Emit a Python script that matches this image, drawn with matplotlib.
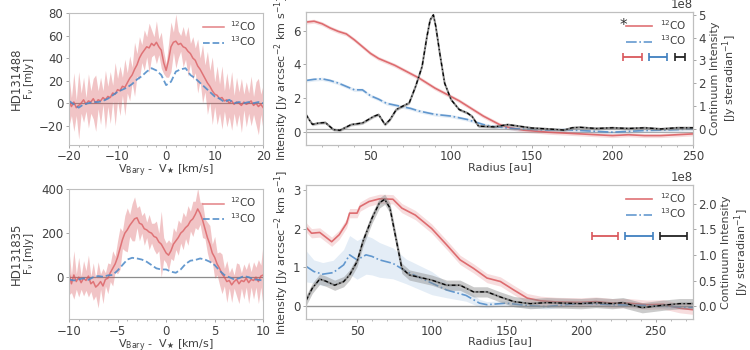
import numpy as np
import matplotlib
matplotlib.use("Agg")
import matplotlib.pyplot as plt
from matplotlib.lines import Line2D

plt.rcParams['font.family'] = ['DejaVu Sans']
plt.rcParams['font.size'] = 8.5
plt.rcParams['text.color'] = '0.25'
plt.rcParams['axes.labelcolor'] = '0.25'
plt.rcParams['xtick.color'] = '0.25'
plt.rcParams['ytick.color'] = '0.25'
plt.rcParams['axes.edgecolor'] = '0.75'

RED = '#d9585c'
BLUE = '#4a88c7'

# ---------------- spectra: HD131488 ----------------
v1_12 = np.arange(-20, 20.01, 0.5)
f1_12 = [2, -3, 1, -4, -2, 0, 3, -1, 2, 1,
         4, 0, 3, 2, 5, 3, 6, 5, 9, 8,
         12, 11, 15, 14, 18, 22, 25, 30, 34, 40,
         44, 47, 50, 49, 53, 51, 54, 50, 47, 36,
         29, 38, 50, 54, 55, 52, 53, 50, 49, 46,
         44, 40, 38, 33, 30, 26, 22, 18, 15, 11,
         8, 7, 4, 5, 2, 3, 0, 2, -1, 1,
         0, -2, 1, -1, 0, 2, -2, 0, -3, -1,
         -4]
e1_12 = [22, 8, 26, 7, 30, 9, 20, 6, 24, 10,
         18, 25, 8, 21, 6, 26, 9, 23, 7, 28,
         10, 22, 8, 25, 9, 20, 7, 24, 10, 19,
         8, 18, 9, 22, 12, 8, 19, 7, 16, 10,
         6, 15, 22, 9, 24, 12, 7, 18, 10, 22,
         9, 19, 11, 24, 10, 26, 12, 28, 14, 30,
         11, 26, 13, 28, 9, 24, 12, 26, 8, 22,
         10, 24, 7, 20, 9, 22, 8, 19, 25, 9,
         21]
v1_13 = np.arange(-20, 20.01, 1.0)
f1_13 = [2, -1, -4, -1, 0, 1, 1, 2, 4, 7,
         10, 12, 14, 17, 21, 24, 28, 31, 29, 25,
         16, 19, 28, 30, 31, 25, 22, 18, 14, 10,
         6, 4, 1, 3, 0, 1, 0, 1, 0, 1,
         0]

# ---------------- spectra: HD131835 ----------------
v2_12 = np.arange(-10, 10.01, 0.25)
f2_12 = [20, -30, 10, -20, 0, -25, -5, -15, 5, -30,
         -20, -45, -35, -20, -40, -10, -5, 20, 40, 60,
         90, 130, 170, 200, 215, 235, 250, 265, 270, 245,
         240, 220, 215, 205, 200, 185, 180, 160, 150, 130,
         110, 100, 120, 150, 165, 180, 200, 210, 225, 235,
         255, 265, 285, 310, 290, 260, 220, 180, 150, 110,
         90, 60, 40, 15, 0, -20, -15, -35, -20, -10,
         -30, -15, -20, -5, -25, -10, -15, 0, -20, 5,
         10]
e2_12 = [100, 40, 110, 35, 90, 30, 80, 45, 95, 35,
         85, 40, 105, 35, 80, 30, 70, 40, 80, 35,
         75, 95, 40, 80, 100, 50, 85, 100, 45, 80,
         40, 75, 35, 80, 45, 60, 75, 40, 150, 50,
         45, 70, 35, 75, 40, 80, 45, 85, 50, 90,
         45, 80, 60, 95, 50, 80, 45, 70, 85, 40,
         95, 50, 75, 90, 40, 95, 35, 80, 30, 75,
         90, 35, 80, 40, 95, 35, 85, 45, 100, 50,
         150]
v2_13 = np.arange(-10, 10.01, 0.5)
f2_13 = [-10, -15, -10, -5, -12, 0, 5, 2, 8, 10,
         30, 55, 80, 88, 85, 80, 70, 55, 40, 35,
         35, 25, 20, 35, 60, 75, 78, 85, 80, 70,
         55, 30, 10, 0, -10, -5, 5, 0, -10, -12,
         -15]

# ---------------- radial profiles: HD131488 ----------------
r1 = [10, 15, 20, 25, 30, 35, 40, 45, 50, 55, 60, 65, 70, 75, 80, 85, 90,
      95, 100, 105, 110, 115, 120, 125, 130, 135, 140, 145, 150, 160, 170,
      180, 190, 200, 210, 220, 230, 240, 250]
i1_12 = [6.5, 6.55, 6.4, 6.15, 5.95, 5.8, 5.45, 5.05, 4.65, 4.35, 4.15, 3.95,
         3.7, 3.45, 3.2, 2.9, 2.6, 2.35, 2.1, 1.85, 1.55, 1.25, 0.95, 0.7,
         0.45, 0.3, 0.2, 0.12, 0.08, 0.0, -0.05, -0.1, -0.15, -0.2, -0.15,
         -0.2, -0.2, -0.15, -0.1]
i1_13 = [3.05, 3.12, 3.15, 3.05, 2.9, 2.7, 2.5, 2.5, 2.15, 1.95, 1.7, 1.6,
         1.5, 1.4, 1.25, 1.15, 1.05, 1.0, 0.95, 0.85, 0.75, 0.6, 0.45, 0.35,
         0.3, 0.25, 0.2, 0.18, 0.17, 0.12, 0.15, 0.1, 0.05, 0.0, 0.05, 0.1,
         0.12, 0.15, 0.2]
rc1 = [10, 12, 14, 18, 22, 27, 31, 38, 45, 52, 55, 59, 62, 66, 70, 74, 78,
       82, 85, 87, 89, 90.5, 93, 96, 100, 105, 110, 113, 117, 127, 135, 150,
       160, 170, 175, 180, 190, 200, 210, 220, 230, 240, 250]
c1 = [0.63, 0.4, 0.2, 0.26, 0.28, -0.03, -0.06, 0.19, 0.26, 0.55, 0.63, 0.19,
      0.4, 0.85, 1.0, 1.14, 1.87, 2.74, 4.05, 4.78, 5.0, 4.49, 3.3, 2.0, 1.28,
      0.85, 0.7, 0.55, 0.12, 0.09, 0.19, 0.04, 0.0, -0.05, 0.05, 0.07, 0.02,
      0.05, 0.02, 0.05, 0.0, 0.05, 0.05]  # units of 1e8

# ---------------- radial profiles: HD131835 ----------------
r2 = [16, 19.5, 25, 33, 38, 43, 45, 50, 52, 58, 65, 74, 80, 89, 100, 110,
      119, 128, 137, 146, 155, 164, 173, 184, 200, 210, 221, 232, 244, 255,
      266, 275]
i2_12 = [2.03, 1.88, 1.9, 1.66, 1.84, 2.14, 2.4, 2.4, 2.57, 2.7, 2.77, 2.76,
         2.53, 2.35, 2.0, 1.58, 1.19, 0.97, 0.72, 0.63, 0.41, 0.2, 0.13, 0.1,
         0.09, 0.11, 0.07, 0.07, 0.03, 0.04, -0.06, -0.1]
r2_13 = [16, 21, 27, 34, 41, 45, 50, 56, 60, 65, 74, 83, 100, 110, 123, 132,
         137, 150, 166, 177, 200, 221, 244, 275]
i2_13 = [1.02, 0.89, 0.82, 0.86, 1.06, 1.32, 1.19, 1.32, 1.28, 1.19, 1.1,
         0.89, 0.59, 0.41, 0.27, 0.07, 0.03, 0.07, 0.0, -0.02, 0.07, 0.03,
         0.01, -0.04]
e2_13 = [0.4, 0.3, 0.3, 0.32, 0.4, 0.5, 0.5, 0.5, 0.48, 0.45, 0.4, 0.32,
         0.3, 0.2, 0.15, 0.1, 0.08, 0.07, 0.06, 0.06, 0.05, 0.05, 0.05, 0.05]
rc2 = [16, 20, 25, 29, 35, 41, 45, 50, 54, 60, 65, 68.5, 72, 76, 80, 85, 100,
       110, 119, 128, 137, 146, 155, 166, 177, 200, 210, 221, 228, 241, 255,
       266, 275]
c2 = [0.12, 0.35, 0.53, 0.49, 0.41, 0.48, 0.61, 0.87, 1.27, 1.72, 2.02, 2.09,
      1.92, 1.33, 0.74, 0.61, 0.51, 0.41, 0.41, 0.28, 0.28, 0.18, 0.09, 0.05,
      0.07, 0.05, 0.07, 0.05, 0.07, -0.03, 0.02, 0.05, 0.05]  # units of 1e8

# beam sizes (centre, half width) for 12CO, 13CO, continuum
beam1_x = [212.3, 228.1, 241.7]
beam1_w = [5.9, 5.6, 3.1]
beam1_y = 4.44
beam2_x = [216.2, 239.0, 262.1]
beam2_w = [8.7, 9.4, 9.0]
beam2_y = 1.81
beam_cols = [RED, '#3f7fbf', '#222222']

fig = plt.figure(figsize=(7.5, 3.5), dpi=100)

ax_s1 = fig.add_axes([0.092, 0.586, 0.259, 0.377])
ax_s2 = fig.add_axes([0.092, 0.0886, 0.259, 0.371])
ax_r1 = fig.add_axes([0.408, 0.586, 0.516, 0.38])
ax_r2 = fig.add_axes([0.408, 0.0886, 0.516, 0.383])


def spectrum(ax, v12, f12, e12, v13, f13, xlim, ylim, xticks, yticks, minor):
    f12 = np.array(f12, float)
    e12 = np.array(e12, float)
    ax.fill_between(v12, f12 - e12, f12 + e12, color=RED, alpha=0.35, lw=0)
    ax.plot(v12, f12, color=RED, lw=1.1, alpha=0.75, label='$^{12}$CO')
    ax.plot(v13, f13, color=BLUE, lw=1.3, ls='--', alpha=0.85, label='$^{13}$CO')
    ax.axhline(0, color='0.55', lw=0.9, zorder=0)
    ax.set_xlim(*xlim)
    ax.set_ylim(*ylim)
    ax.set_xticks(xticks)
    ax.set_yticks(yticks)
    ax.set_xticks(np.arange(xlim[0], xlim[1] + 0.01, minor), minor=True)
    ax.tick_params(which='major', length=2.5, width=0.6, color='0.6', pad=1.5)
    ax.tick_params(which='minor', length=1.5, width=0.5, color='0.6')
    ax.set_xlabel(r'V$_{\rm Bary}$ -  V$_\bigstar$ [km/s]', fontsize=8, labelpad=-0.3)
    ax.set_ylabel(r'F$_\nu$ [mJy]', fontsize=7.5)
    ax.yaxis.set_label_coords(-0.17, 0.5)
    ax.legend(loc='upper right', frameon=False, fontsize=7.5, handlelength=2.0,
              borderaxespad=0.2, labelspacing=0.15, handletextpad=0.6)


spectrum(ax_s1, v1_12, f1_12, e1_12, v1_13, f1_13, (-20, 20), (-37, 80),
         [-20, -10, 0, 10, 20], [-20, 0, 20, 40, 60, 80], 2)
spectrum(ax_s2, v2_12, f2_12, e2_12, v2_13, f2_13, (-10, 10), (-190, 400),
         [-10, -5, 0, 5, 10], [0, 200, 400], 1)

fig.text(0.022, 0.774, 'HD131488', rotation=90, va='center', ha='center', fontsize=8.5)
fig.text(0.022, 0.274, 'HD131835', rotation=90, va='center', ha='center', fontsize=8.5)


def profile(ax, r12, i12, e12, r13, i13, e13, rc, c, ec, xlim, ylim, ylim2,
            yticks, yticks2, bx, bw, by, star):
    i12 = np.array(i12, float)
    i13 = np.array(i13, float)
    c = np.array(c, float) * 1e8
    ax.fill_between(r12, i12 - e12, i12 + e12, color=RED, alpha=0.2, lw=0)
    ax.plot(r12, i12, color=RED, lw=1.2, alpha=0.85)
    ax.fill_between(r13, i13 - np.array(e13), i13 + np.array(e13), color=BLUE,
                    alpha=0.15, lw=0)
    ax.plot(r13, i13, color=BLUE, lw=1.2, ls='-.', alpha=0.85)
    ax.axhline(0, color='0.55', lw=0.9, alpha=0.7, zorder=0)
    for x, w, col in zip(bx, bw, beam_cols):
        ax.errorbar([x], [by], xerr=[w], color=col, lw=1.3, capsize=3,
                    capthick=1.2, fmt='none')
    ax.set_xlim(*xlim)
    ax.set_ylim(*ylim)
    ax.set_yticks(yticks)
    ax.set_xticks([50, 100, 150, 200, 250])
    ax.set_xticks(np.arange(20, xlim[1], 10), minor=True)
    ax.tick_params(which='major', length=2.5, width=0.6, color='0.6', pad=1.5)
    ax.tick_params(which='minor', length=1.5, width=0.5, color='0.6')
    ax.set_xlabel('Radius [au]', fontsize=8, labelpad=-1)
    ax.set_ylabel('Intensity [Jy arcsec$^{-2}$ km s$^{-1}$]', fontsize=8)
    ax.yaxis.set_label_coords(-0.039, 0.5)

    ax2 = ax.twinx()
    ax2.fill_between(rc, c - ec * 1e8, c + ec * 1e8, color='0.55', alpha=0.45, lw=0)
    ax2.plot(rc, c, color='0.45', lw=1.4, alpha=0.8)
    ax2.plot(rc, c, color='black', lw=0.9, ls=(0, (3, 2, 1, 2)))
    ax2.axhline(0, color='0.55', lw=0.9, alpha=0.7, zorder=0)
    ax2.set_ylim(*ylim2)
    ax2.set_yticks(yticks2)
    ax2.tick_params(length=2.5, width=0.6, color='0.6', pad=1.5)
    ax2.set_ylabel('Continuum Intensity\n[Jy steradian$^{-1}$]', fontsize=8,
                   linespacing=1.05, labelpad=3)
    ax2.yaxis.get_offset_text().set_fontsize(8.5)

    handles = [Line2D([], [], color=RED, lw=1.2, alpha=0.85),
               Line2D([], [], color=BLUE, lw=1.2, ls='-.', alpha=0.85)]
    ax.legend(handles, ['$^{12}$CO', '$^{13}$CO'], loc='upper right',
              frameon=False, fontsize=7.5, handlelength=2.5, borderaxespad=0.2,
              labelspacing=0.15)
    if star:
        ax.text(0.82, 0.9, '*', transform=ax.transAxes, fontsize=11,
                ha='center', va='center', color='0.2')
    return ax2


profile(ax_r1, r1, i1_12, 0.12, r1, i1_13, 0.1, rc1, c1, 0.06,
        (10, 250), (-0.75, 7.1), (-0.7e8, 5.13e8), [0, 2, 4, 6],
        [0, 1e8, 2e8, 3e8, 4e8, 5e8], beam1_x, beam1_w, beam1_y, True)
profile(ax_r2, r2, i2_12, 0.12, r2_13, i2_13, e2_13, rc2, c2, 0.1,
        (15.8, 275), (-0.34, 3.13), (-0.25e8, 2.37e8), [0, 1, 2, 3],
        [0, 0.5e8, 1e8, 1.5e8, 2e8], beam2_x, beam2_w, beam2_y, False)

fig.savefig('out.png', dpi=100)
